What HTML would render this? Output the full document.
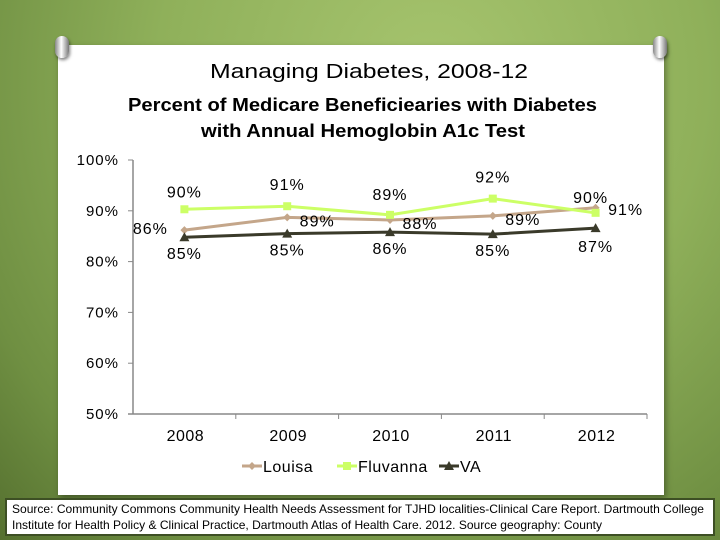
<!DOCTYPE html>
<html><head><meta charset="utf-8"><style>
html,body{margin:0;padding:0}
body{width:720px;height:540px;overflow:hidden;position:relative;font-family:"Liberation Sans",Arial,sans-serif;
background:radial-gradient(ellipse at 60% 15%,#a6c46e 0%,#8fb05a 45%,#6f8f42 80%,#55702f 100%);}
#card{position:absolute;left:58px;top:45px;width:606px;height:450px;background:#fff;box-shadow:2px 3px 6px rgba(0,0,0,.35)}
.pin{position:absolute;width:14px;height:22px;border-radius:7px;background:linear-gradient(90deg,#888,#fff 45%,#777);box-shadow:1px 2px 3px rgba(0,0,0,.5)}
#src{position:absolute;left:5px;top:498px;width:710px;height:38px;background:#fff;border:2px solid #3d4f24;box-sizing:border-box}
</style></head><body>
<div id="card"></div>
<div class="pin" style="left:55px;top:36px"></div>
<div class="pin" style="left:653px;top:36px"></div>
<div id="src"></div>
<svg id="chart" width="720" height="540" style="position:absolute;left:0;top:0">
<text x="210" y="78" textLength="318" lengthAdjust="spacingAndGlyphs" font-size="20" fill="#000">Managing Diabetes, 2008-12</text>
<text x="128" y="111" textLength="469" lengthAdjust="spacingAndGlyphs" font-size="18" font-weight="bold">Percent of Medicare Beneficiearies with Diabetes</text>
<text x="201" y="137" textLength="324" lengthAdjust="spacingAndGlyphs" font-size="18" font-weight="bold">with Annual Hemoglobin A1c Test</text>
<g id="plot"></g>
<text x="12" y="513" textLength="692" lengthAdjust="spacingAndGlyphs" font-size="12">Source: Community Commons Community Health Needs Assessment for TJHD localities-Clinical Care Report. Dartmouth College</text>
<text x="12" y="529" textLength="590" lengthAdjust="spacingAndGlyphs" font-size="12">Institute for Health Policy &amp; Clinical Practice, Dartmouth Atlas of Health Care. 2012. Source geography: County</text>
</svg>
<script>
const categories=["2008","2009","2010","2011","2012"];
const louisa=[86.2,88.7,88.2,89.0,90.6];
const fluvanna=[90.3,90.9,89.2,92.4,89.6];
const va=[84.8,85.5,85.8,85.4,86.6];
const louisaLabels=["86%","89%","88%","89%","91%"];
const fluvannaLabels=["90%","91%","89%","92%","90%"];
const vaLabels=["85%","85%","86%","85%","87%"];
const yTicks=[50,60,70,80,90,100];
const yMin=50,yMax=100,x0=133,x1=647,yTop=160,yBot=414;
const NS="http://www.w3.org/2000/svg";
const g=document.getElementById('plot');
const band=(x1-x0)/categories.length;
const X=i=>x0+band*(i+0.5);
const Y=v=>yBot-(v-yMin)/(yMax-yMin)*(yBot-yTop);
function mk(t,a,p){const e=document.createElementNS(NS,t);for(const k in a)e.setAttribute(k,a[k]);(p||g).appendChild(e);return e;}
let ax=mk('line',{x1:x0,y1:yTop,x2:x0,y2:yBot,stroke:'#888','stroke-width':1.5});


let xa=mk('line',{x1:x0-5,y1:yBot,x2:x1,y2:yBot,stroke:'#888','stroke-width':1.5});


yTicks.forEach(v=>{
 mk('line',{x1:x0-5,y1:Y(v),x2:x0,y2:Y(v),stroke:'#888'});
 const t=mk('text',{x:x0-14,y:Y(v)+5,'text-anchor':'end','font-size':15,'letter-spacing':1});
 t.textContent=v+'%';
 
 
});
categories.forEach((c,i)=>{
 mk('line',{x1:x0+band*(i+1),y1:yBot,x2:x0+band*(i+1),y2:yBot+5,stroke:'#888'});
 const t=mk('text',{x:X(i)+1,y:yBot+27,'text-anchor':'middle','font-size':16,'letter-spacing':0.5});
 t.textContent=c;
 
 
});
function series(vals,labels,color,marker,name,offs){
 const pl=mk('polyline',{points:vals.map((v,i)=>X(i)+','+Y(v)).join(' '),fill:'none',stroke:color,'stroke-width':3});
 
 
 vals.forEach((v,i)=>{
  const x=X(i),y=Y(v);let m;
  if(marker==='d')m=mk('polygon',{points:`${x},${y-4} ${x+4},${y} ${x},${y+4} ${x-4},${y}`,fill:color});
  else if(marker==='s')m=mk('rect',{x:x-4,y:y-4,width:8,height:8,fill:color});
  else m=mk('polygon',{points:`${x},${y-5} ${x+5},${y+4} ${x-5},${y+4}`,fill:color});
  
  
  const t=mk('text',{x:x+offs[i][0],y:y+offs[i][1],'text-anchor':'middle','font-size':16,'letter-spacing':1});
  t.textContent=labels[i];
  
  
 });
}
series(louisa,louisaLabels,'#c4a68a','d','louisa',[[-34,4],[30,9],[30,9],[30,9],[30,7]]);
series(fluvanna,fluvannaLabels,'#ccff66','s','fluvanna',[[0,-12],[0,-16],[0,-15],[0,-16],[-5,-10]]);
series(va,vaLabels,'#3a3a2a','t','va',[[0,22],[0,22],[0,22],[0,22],[0,24]]);
const leg=[["Louisa",'#c4a68a','d',262],["Fluvanna",'#ccff66','s',357],["VA",'#3a3a2a','t',459]];
leg.forEach(([n,c,m,x])=>{
 const y=466;
 mk('line',{x1:x-20,y1:y,x2:x,y2:y,stroke:c,'stroke-width':3});
 const xm=x-10;
 if(m==='d')mk('polygon',{points:`${xm},${y-4} ${xm+4},${y} ${xm},${y+4} ${xm-4},${y}`,fill:c});
 else if(m==='s')mk('rect',{x:xm-4,y:y-4,width:8,height:8,fill:c});
 else mk('polygon',{points:`${xm},${y-5} ${xm+5},${y+4} ${xm-5},${y+4}`,fill:c});
 const t=mk('text',{x:x+1,y:y+6,'font-size':16,'letter-spacing':0.5});
 t.textContent=n;
 
 
});
</script>
</body></html>
